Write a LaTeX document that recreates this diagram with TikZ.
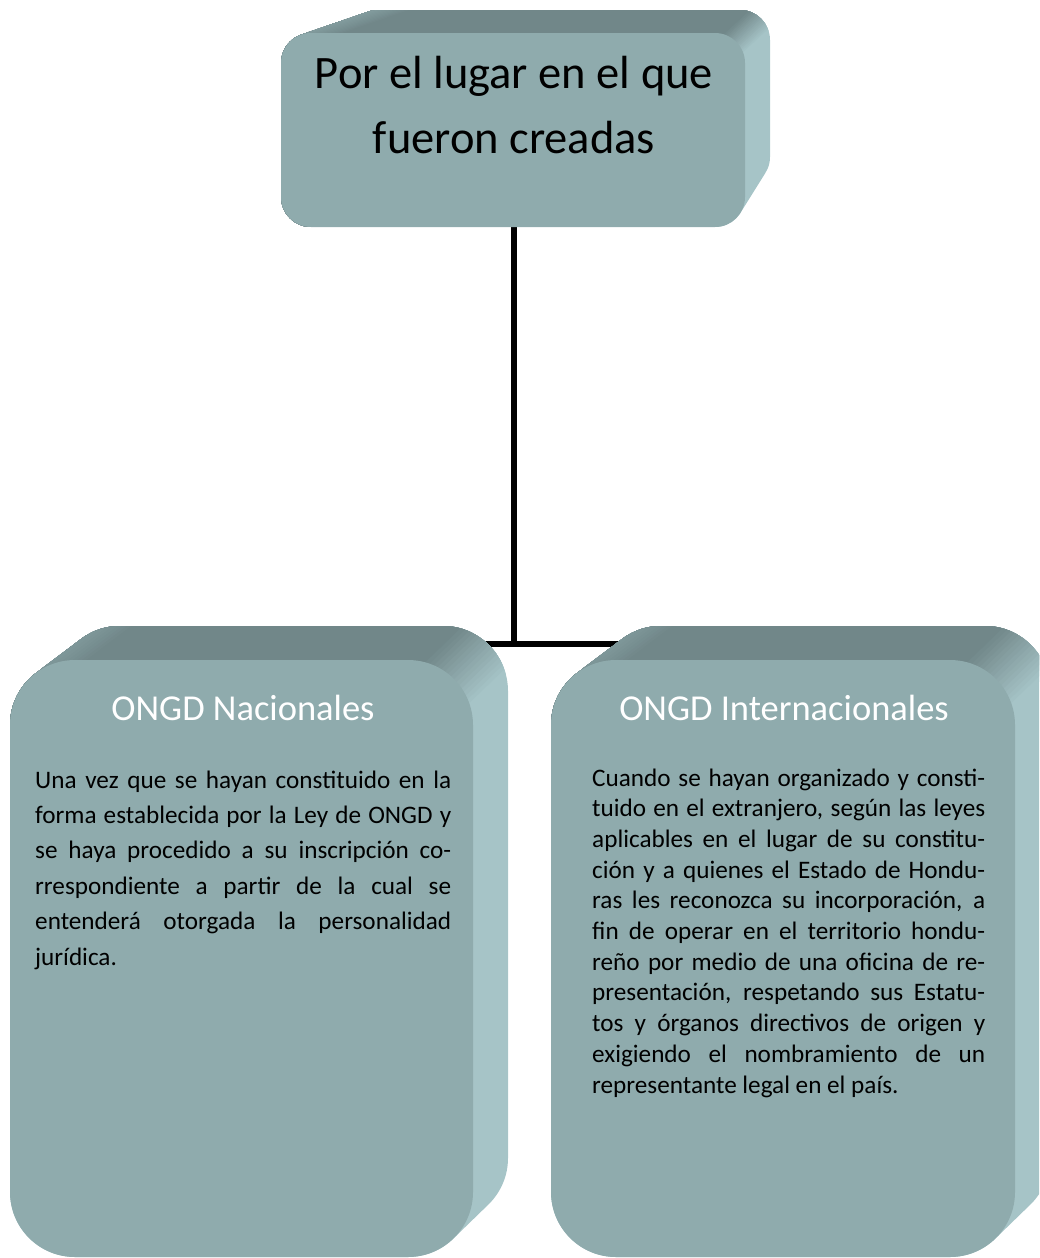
\documentclass[tikz,border=0pt]{standalone}
\usepackage{fontspec}
\setmainfont{Carlito}
\definecolor{frontc}{HTML}{8FABAD}
\definecolor{topc}{HTML}{718789}
\definecolor{sidec}{HTML}{A6C4C7}
\definecolor{midc}{HTML}{8DA9AB}
% hull of the extrusion (union of interpolated rounded rectangles) as clip
\newcommand\hullclip[9]{%
  \clip[rounded corners=#9pt] \foreach \t in {0,0.025,...,1.001}{({#1+(#5-#1)*\t},{#2+(#6-#2)*\t}) rectangle ({#3+(#7-#3)*\t},{#4+(#8-#4)*\t})};}
% graded half-planes on the minus-normal side of line f->b
\newcommand\bands[7]{%
  \pgfmathsetmacro\fx{#1}\pgfmathsetmacro\fy{#2}%
  \pgfmathsetmacro\bdx{(#3)-(#1)}\pgfmathsetmacro\bdy{(#4)-(#2)}%
  \pgfmathsetmacro\blen{sqrt(\bdx*\bdx+\bdy*\bdy)}%
  \pgfmathsetmacro\ux{\bdx/\blen}\pgfmathsetmacro\uy{\bdy/\blen}%
  \pgfmathsetmacro\nx{-\uy}\pgfmathsetmacro\ny{\ux}%
  \foreach \k in {0,...,16}{%
    \pgfmathsetmacro\d{#7*(1-\k/8)}%
    \pgfmathtruncatemacro\p{100*(1-\k/16)}%
    \fill[#5!\p!#6] ({\fx+\d*\nx-600*\ux},{\fy+\d*\ny-600*\uy}) -- ({\fx+\d*\nx+600*\ux},{\fy+\d*\ny+600*\uy}) -- ({\fx+\d*\nx+600*\ux-1500*\nx},{\fy+\d*\ny+600*\uy-1500*\ny}) -- ({\fx+\d*\nx-600*\ux-1500*\nx},{\fy+\d*\ny-600*\uy-1500*\ny}) -- cycle;
  }}
% #1-#4 back face L T R B, #5-#8 front face L T R B, #9 radius
\newcommand\threedbox[9]{%
  \begin{scope}
    \hullclip{#1}{#2}{#3}{#4}{#5}{#6}{#7}{#8}{#9}
    \fill[sidec] (-100,-100) rectangle (1200,1400);
    \bands{#7-0.293*#9}{#6+0.293*#9}{#3-0.293*#9}{#2+0.293*#9}{sidec}{topc}{\gradTR}
    \bands{#5+0.293*#9}{#6+0.293*#9}{#1+0.293*#9}{#2+0.293*#9}{topc}{midc}{\gradTL}
  \end{scope}
  \fill[frontc,rounded corners=#9pt] (#5,#6) rectangle (#7,#8);}
\tikzset{
  conn/.style={line width=6pt,black},
  titletext/.style={anchor=base,inner sep=0pt,font=\fontsize{46.5}{52}\selectfont},
  headtext/.style={anchor=base,inner sep=0pt,text=white,font=\fontsize{36.5}{40}\selectfont},
  bodytext/.style={anchor=base west,inner sep=0pt,font=\fontsize{25.2}{30}\selectfont}
}
\newcommand\jl[1]{\makebox[416pt][s]{#1}}
\newcommand\jr[1]{\makebox[393pt][s]{#1}}
\begin{document}
\begin{tikzpicture}[x=1pt,y=-1pt]
\useasboundingbox (0,0) rectangle (1039,1258);
\clip (0,0) rectangle (1039,1258);
% connectors
\coordinate (topS) at (514,227);
\coordinate (junc) at (514,644);
\coordinate (leftC) at (242,644);
\coordinate (rightC) at (784,644);
\draw[conn] (topS) -- (junc);
\draw[conn] (leftC) -- (rightC);
% boxes
\def\gradTR{14}\def\gradTL{10}
\threedbox{348}{10}{770}{187}{281}{33}{745}{227}{30}
\def\gradTR{32}\def\gradTL{22}
\threedbox{55}{626}{508}{1223}{10}{660}{473}{1257}{65}
\threedbox{596}{626}{1050}{1223}{551}{660}{1015}{1257}{65}
% title
\node[titletext] (title1) at (514,88) {Por el lugar en el que};
\node[titletext] (title2) at (514,153) {fueron creadas};
% headings
\node[headtext] (nac) at (243,720) {ONGD Nacionales};
\node[headtext] (int) at (784,720) {ONGD Internacionales};
% left body
\node[bodytext] (l1) at (35,788) {\jl{Una vez que se hayan constituido en la}};
\node[bodytext] (l2) at (35,823.4) {\jl{forma establecida por la Ley de ONGD y}};
\node[bodytext] (l3) at (35,858.8) {\jl{se haya procedido a su inscripción co-}};
\node[bodytext] (l4) at (35,894.2) {\jl{rrespondiente a partir de la cual se}};
\node[bodytext] (l5) at (35,929.6) {\jl{entenderá otorgada la personalidad}};
\node[bodytext] (l6) at (35,965) {jurídica.};
% right body
\node[bodytext] (r1) at (592,786) {\jr{Cuando se hayan organizado y consti-}};
\node[bodytext] (r2) at (592,816.7) {\jr{tuido en el extranjero, según las leyes}};
\node[bodytext] (r3) at (592,847.4) {\jr{aplicables en el lugar de su constitu-}};
\node[bodytext] (r4) at (592,878.1) {\jr{ción y a quienes el Estado de Hondu-}};
\node[bodytext] (r5) at (592,908.8) {\jr{ras les reconozca su incorporación, a}};
\node[bodytext] (r6) at (592,939.5) {\jr{fin de operar en el territorio hondu-}};
\node[bodytext] (r7) at (592,970.2) {\jr{reño por medio de una oficina de re-}};
\node[bodytext] (r8) at (592,1000.9) {\jr{presentación, respetando sus Estatu-}};
\node[bodytext] (r9) at (592,1031.6) {\jr{tos y órganos directivos de origen y}};
\node[bodytext] (r10) at (592,1062.3) {\jr{exigiendo el nombramiento de un}};
\node[bodytext] (r11) at (592,1093) {representante legal en el país.};
\end{tikzpicture}
\end{document}
